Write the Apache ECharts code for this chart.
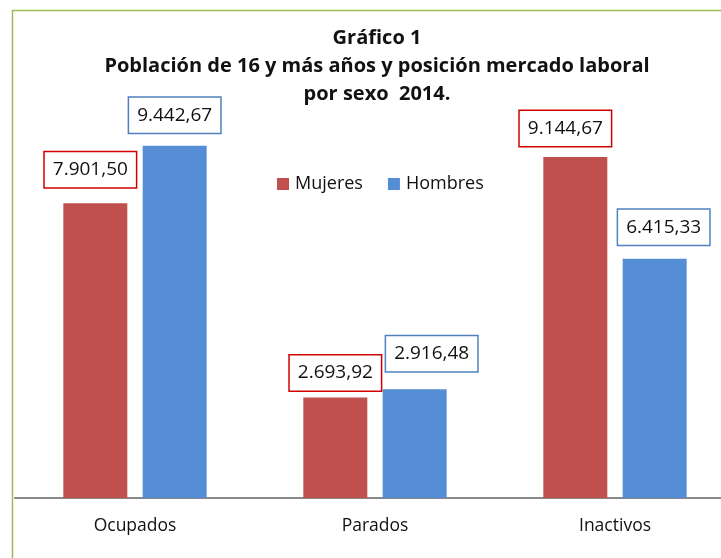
<!DOCTYPE html>
<html>
<head>
<meta charset="utf-8">
<script src="https://cdn.jsdelivr.net/npm/echarts@6/dist/echarts.min.js"></script>
<style>
  html, body { margin: 0; padding: 0; background: #fff; }
  #main { width: 721px; height: 558px; }
</style>
</head>
<body>
<div id="main"></div>
<script>
// datos del gráfico
var categorias = ["Ocupados", "Parados", "Inactivos"];
var mujeres = [7901.50, 2693.92, 9144.67];
var hombres = [9442.67, 2916.48, 6415.33];
var nombres = ["Mujeres", "Hombres"];

// desplazamiento de las etiquetas movidas a mano [dx, separación]
var ajusteMujeres = [[-5, 16], [0, 7], [-10, 11]];
var ajusteHombres = [[0, 13], [17, 18], [9, 14]];

var chart = echarts.init(document.getElementById("main"));

// formato español: 9.442,67
function fmt(v) {
  var s = v.toFixed(2).split(".");
  return s[0].replace(/\B(?=(\d{3})+(?!\d))/g, ".") + "," + s[1];
}

var fuente = "Open Sans";

function etiqueta(color) {
  return {
    show: true,
    position: "top",
    distance: 0,
    formatter: function (p) { return fmt(p.value); },
    fontFamily: fuente,
    fontSize: 19,
    lineHeight: 23,
    color: "#111",
    backgroundColor: "#fff",
    borderColor: color,
    borderWidth: 1.5,
    padding: [6, 8, 6, 8]
  };
}

function conAjuste(valores, ajustes) {
  return valores.map(function (v, i) {
    return { value: v, label: { offset: [ajustes[i][0], -ajustes[i][1]] } };
  });
}

var option = {
  animation: false,
  title: {
    text: "Gráfico 1\nPoblación de 16 y más años y posición mercado laboral\npor sexo  2014.",
    left: 372,
    top: 19,
    textAlign: "center",
    textStyle: {
      fontFamily: fuente,
      fontWeight: "bold",
      fontSize: 20,
      lineHeight: 28,
      color: "#111"
    }
  },
  legend: {
    data: nombres,
    left: 277,
    top: 175,
    padding: 0,
    itemWidth: 12,
    itemHeight: 12,
    itemGap: 25,
    icon: "rect",
    textStyle: { fontFamily: fuente, fontSize: 18, color: "#111", padding: [0, 0, 0, 1] }
  },
  graphic: [{
    type: "rect",
    shape: { x: 12.5, y: 10.5, width: 730, height: 560 },
    style: { fill: "none", stroke: "#9BBB59", lineWidth: 1.5 },
    silent: true
  }],
  grid: { left: 15, width: 720, top: 125, bottom: 60, outerBoundsMode: "none", containLabel: false },
  xAxis: {
    type: "category",
    data: categorias,
    axisLine: { lineStyle: { color: "#888", width: 2 } },
    axisTick: { show: false },
    axisLabel: { fontFamily: fuente, fontSize: 17.5, color: "#111", margin: 19 }
  },
  yAxis: {
    type: "value",
    min: 0,
    max: 10000,
    show: false,
    splitLine: { show: false }
  },
  series: [
    {
      name: nombres[0],
      type: "bar",
      data: conAjuste(mujeres, ajusteMujeres),
      barWidth: 64,
      barGap: "24%",
      itemStyle: { color: "#C0504D" },
      label: etiqueta("#D00000")
    },
    {
      name: nombres[1],
      type: "bar",
      data: conAjuste(hombres, ajusteHombres),
      barWidth: 64,
      barGap: "24%",
      itemStyle: { color: "#558ED5" },
      label: etiqueta("#4F81BD")
    }
  ]
};

chart.setOption(option);
</script>
</body>
</html>
